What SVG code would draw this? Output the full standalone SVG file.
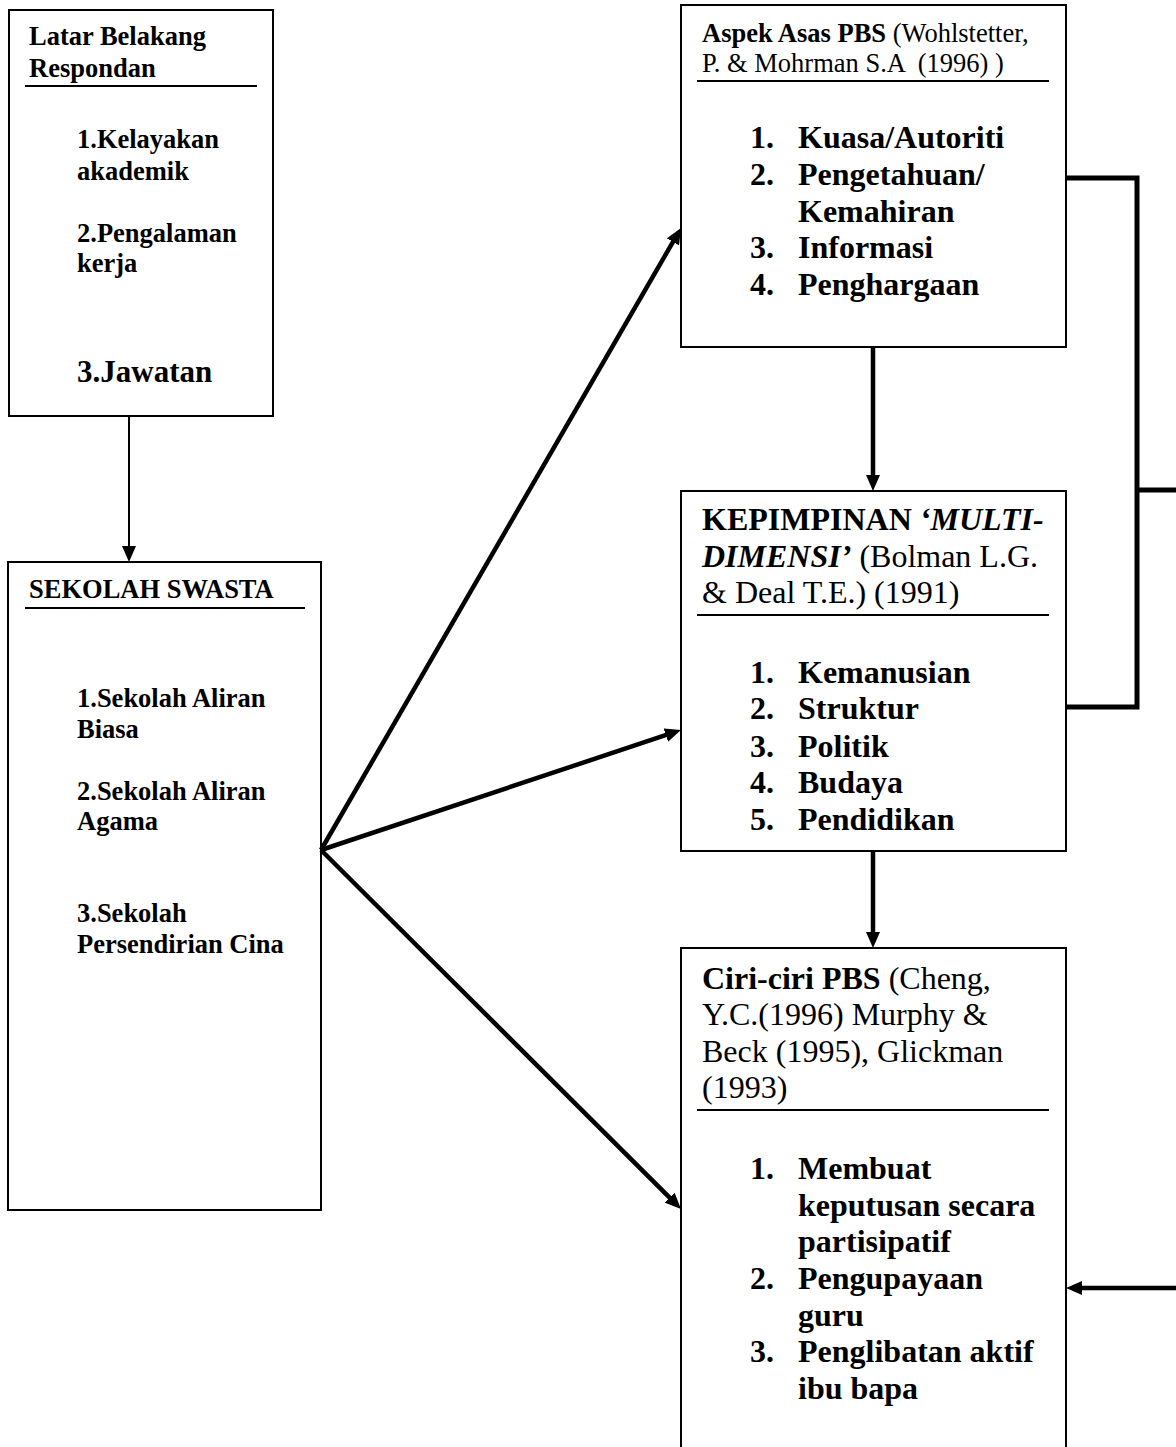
<svg xmlns="http://www.w3.org/2000/svg" width="1176" height="1447" viewBox="0 0 1176 1447">
<style>
.box{fill:#fff;stroke:#000;stroke-width:2}
.ul{stroke:#000;stroke-width:2}
text{font-family:"Liberation Serif","Times New Roman",serif;fill:#000;white-space:pre}
.b{font-weight:bold}
.h1{font-size:26.5px}
.h2{font-size:32px}
.it{font-weight:bold;font-size:26.5px}
.li{font-weight:bold;font-size:32px}
.bi{font-weight:bold;font-style:italic}
.r{font-weight:normal}
.c{fill:none;stroke:#000}
</style>
<defs>
<marker id="ah" markerUnits="userSpaceOnUse" markerWidth="16" markerHeight="14" refX="6" refY="7" orient="auto">
<path d="M0,0 L16,7 L0,14 z" fill="#000"/>
</marker>
</defs>
<rect width="1176" height="1447" fill="#fff"/>

<g id="latar">
<rect class="box" x="9" y="10" width="264" height="406"/>
<text class="h1 b" x="29" y="45">Latar Belakang</text>
<text class="h1 b" x="29" y="77">Respondan</text>
<line class="ul" x1="25" y1="86" x2="257" y2="86"/>
<text class="it" x="77" y="148">1.Kelayakan</text>
<text class="it" x="77" y="180">akademik</text>
<text class="it" x="77" y="242">2.Pengalaman</text>
<text class="it" x="77" y="272">kerja</text>
<text class="b" x="77" y="382" font-size="31">3.Jawatan</text>
</g>

<g id="sekolah">
<rect class="box" x="8" y="562" width="313" height="648"/>
<text class="h1 b" x="29" y="598">SEKOLAH SWASTA</text>
<line class="ul" x1="25" y1="608" x2="305" y2="608"/>
<text class="it" x="77" y="707">1.Sekolah Aliran</text>
<text class="it" x="77" y="738">Biasa</text>
<text class="it" x="77" y="800">2.Sekolah Aliran</text>
<text class="it" x="77" y="830">Agama</text>
<text class="it" x="77" y="922">3.Sekolah</text>
<text class="it" x="77" y="953">Persendirian Cina</text>
</g>

<g id="aspek">
<rect class="box" x="681" y="5" width="385" height="342"/>
<text class="h1" x="702" y="42"><tspan class="b">Aspek Asas PBS</tspan> (Wohlstetter,</text>
<text class="h1" x="702" y="72">P. &amp; Mohrman S.A  (1996) )</text>
<line class="ul" x1="697" y1="81" x2="1049" y2="81"/>
<text class="li" x="750" y="148">1.</text><text class="li" x="798" y="148">Kuasa/Autoriti</text>
<text class="li" x="750" y="185">2.</text><text class="li" x="798" y="185">Pengetahuan/</text>
<text class="li" x="798" y="222">Kemahiran</text>
<text class="li" x="750" y="258">3.</text><text class="li" x="798" y="258">Informasi</text>
<text class="li" x="750" y="295">4.</text><text class="li" x="798" y="295">Penghargaan</text>
</g>

<g id="kepimpinan">
<rect class="box" x="681" y="491" width="385" height="360"/>
<text class="h2" x="702" y="530"><tspan class="b">KEPIMPINAN </tspan><tspan class="bi">‘MULTI-</tspan></text>
<text class="h2" x="702" y="567"><tspan class="bi">DIMENSI’</tspan> (Bolman L.G.</text>
<text class="h2" x="702" y="603">&amp; Deal T.E.) (1991)</text>
<line class="ul" x1="697" y1="615" x2="1049" y2="615"/>
<text class="li" x="750" y="683">1.</text><text class="li" x="798" y="683">Kemanusian</text>
<text class="li" x="750" y="719">2.</text><text class="li" x="798" y="719">Struktur</text>
<text class="li" x="750" y="757">3.</text><text class="li" x="798" y="757">Politik</text>
<text class="li" x="750" y="793">4.</text><text class="li" x="798" y="793">Budaya</text>
<text class="li" x="750" y="830">5.</text><text class="li" x="798" y="830">Pendidikan</text>
</g>

<g id="ciri">
<rect class="box" x="681" y="948" width="385" height="520"/>
<text class="h2" x="702" y="989"><tspan class="b">Ciri-ciri PBS</tspan> (Cheng,</text>
<text class="h2" x="702" y="1025">Y.C.(1996) Murphy &amp;</text>
<text class="h2" x="702" y="1062">Beck (1995), Glickman</text>
<text class="h2" x="702" y="1098">(1993)</text>
<line class="ul" x1="697" y1="1110" x2="1049" y2="1110"/>
<text class="li" x="750" y="1179">1.</text><text class="li" x="798" y="1179">Membuat</text>
<text class="li" x="798" y="1216">keputusan secara</text>
<text class="li" x="798" y="1252">partisipatif</text>
<text class="li" x="750" y="1289">2.</text><text class="li" x="798" y="1289">Pengupayaan</text>
<text class="li" x="798" y="1326">guru</text>
<text class="li" x="750" y="1362">3.</text><text class="li" x="798" y="1362">Penglibatan aktif</text>
<text class="li" x="798" y="1399">ibu bapa</text>
</g>

<g id="connectors">
<line class="c" x1="129" y1="416" x2="129" y2="552" stroke-width="2" marker-end="url(#ah)"/>
<line class="c" x1="321" y1="850" x2="676" y2="236.7" stroke-width="4.5" marker-end="url(#ah)"/>
<line class="c" x1="321" y1="850" x2="671.5" y2="733.2" stroke-width="4.5" marker-end="url(#ah)"/>
<line class="c" x1="321" y1="850" x2="673.9" y2="1201.9" stroke-width="4.5" marker-end="url(#ah)"/>
<line class="c" x1="873" y1="347" x2="873" y2="481" stroke-width="4.5" marker-end="url(#ah)"/>
<line class="c" x1="873" y1="851" x2="873" y2="938" stroke-width="4.5" marker-end="url(#ah)"/>
<polyline class="c" points="1066,178 1137,178 1137,707 1066,707" stroke-width="5"/>
<line class="c" x1="1137" y1="490" x2="1176" y2="490" stroke-width="5"/>
<line class="c" x1="1176" y1="1288" x2="1076" y2="1288" stroke-width="4.5" marker-end="url(#ah)"/>
</g>
</svg>
